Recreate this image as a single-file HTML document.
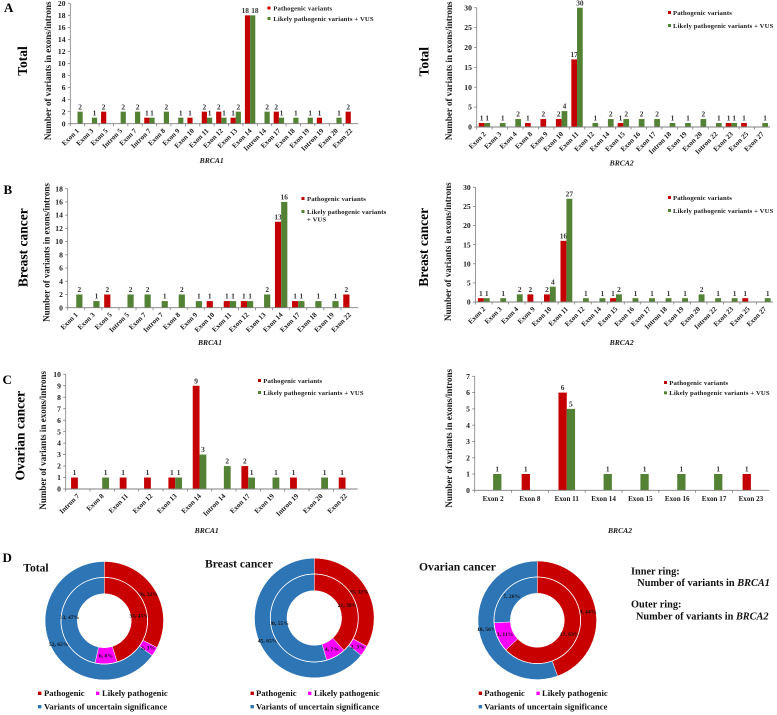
<!DOCTYPE html>
<html lang="en">
<head>
<meta charset="utf-8">
<title>BRCA1 and BRCA2 variant distribution</title>
<style>
html,body{margin:0;padding:0;background:#fff;}
svg{display:block;font-family:"Liberation Serif",serif;font-weight:bold;filter:blur(0.3px);}
.leg{font-size:6.7px;fill:#1a1a1a;letter-spacing:.12px;}
.atitle{font-size:9px;fill:#1a1a1a;text-anchor:middle;}
.ptitle{font-size:13.5px;fill:#000;text-anchor:middle;}
.gene{font-size:7.6px;font-style:italic;fill:#1a1a1a;text-anchor:middle;}
.letter{font-size:13px;fill:#000;}
.dtitle{font-size:11.6px;fill:#111;}
.dleg{font-size:8.6px;fill:#111;}
.note{font-size:10.3px;fill:#111;}
</style>
</head>
<body>
<svg id="fig" xmlns="http://www.w3.org/2000/svg" width="777" height="715" viewBox="0 0 777 715">
<rect width="777" height="715" fill="#fff"/>

<text class="letter" x="4" y="12">A</text>
<text class="letter" x="3.5" y="194">B</text>
<text class="letter" x="2.5" y="384">C</text>
<text class="letter" x="2.5" y="562">D</text>

<text class="ptitle" transform="translate(27 61) rotate(-90)">Total</text>
<text class="ptitle" transform="translate(428.5 61.7) rotate(-90)">Total</text>
<text class="ptitle" transform="translate(27.5 247.7) rotate(-90)">Breast cancer</text>
<text class="ptitle" transform="translate(428 247.3) rotate(-90)">Breast cancer</text>
<text class="ptitle" transform="translate(24.5 435.7) rotate(-90)">Ovarian cancer</text>

<text class="atitle" transform="translate(51 70.8) rotate(-90)">Number of variants in exons/introns</text>
<text class="atitle" transform="translate(452 70.8) rotate(-90)">Number of variants in exons/introns</text>
<text class="atitle" transform="translate(49.5 252.5) rotate(-90)">Number of variants in exons/introns</text>
<text class="atitle" transform="translate(451 251.7) rotate(-90)">Number of variants in exons/introns</text>
<text class="atitle" transform="translate(46 440.3) rotate(-90)">Number of variants in exons/introns</text>
<text class="atitle" transform="translate(451.8 438.3) rotate(-90)">Number of variants in exons/introns</text>

<text class="gene" x="211.7" y="163">BRCA1</text>
<text class="gene" x="621.7" y="165.5">BRCA2</text>
<text class="gene" x="210" y="345">BRCA1</text>
<text class="gene" x="621.7" y="345">BRCA2</text>
<text class="gene" x="206.7" y="533">BRCA1</text>
<text class="gene" x="620" y="533">BRCA2</text>

<g>
<rect x="267.5" y="6.5" width="3" height="3" fill="#c00000"/><text class="leg" x="273.3" y="10.3">Pathogenic variants</text>
<rect x="267.5" y="17" width="3" height="3" fill="#548235"/><text class="leg" x="273.3" y="20.8">Likely pathogenic variants + VUS</text>
</g>
<g>
<rect x="668" y="11" width="3" height="3" fill="#c00000"/><text class="leg" x="673" y="14.8">Pathogenic variants</text>
<rect x="668" y="24" width="3" height="3" fill="#548235"/><text class="leg" x="673" y="27.8">Likely pathogenic variants + VUS</text>
</g>
<g>
<rect x="301.5" y="197" width="3" height="3" fill="#c00000"/><text class="leg" x="307" y="200.8">Pathogenic variants</text>
<rect x="301.5" y="210" width="3" height="3" fill="#548235"/><text class="leg" x="307" y="214">Likely pathogenic variants</text><text class="leg" x="307" y="221.5">+ VUS</text>
</g>
<g>
<rect x="668" y="196" width="3" height="3" fill="#c00000"/><text class="leg" x="673" y="199.8">Pathogenic variants</text>
<rect x="668" y="209" width="3" height="3" fill="#548235"/><text class="leg" x="673" y="212.8">Likely pathogenic variants + VUS</text>
</g>
<g>
<rect x="258" y="379" width="3" height="3" fill="#c00000"/><text class="leg" x="263.3" y="383">Pathogenic variants</text>
<rect x="258" y="391" width="3" height="3" fill="#548235"/><text class="leg" x="263.3" y="394.8">Likely pathogenic variants + VUS</text>
</g>
<g>
<rect x="664" y="381" width="3" height="3" fill="#c00000"/><text class="leg" x="669.3" y="384.8">Pathogenic variants</text>
<rect x="664" y="391.3" width="3" height="3" fill="#548235"/><text class="leg" x="669.3" y="395.2">Likely pathogenic variants + VUS</text>
</g>

<g id="chart-a1"></g>
<g id="chart-a2"></g>
<g id="chart-b1"></g>
<g id="chart-b2"></g>
<g id="chart-c1"></g>
<g id="chart-c2"></g>
<g id="donut-total"></g>
<g id="donut-breast"></g>
<g id="donut-ovarian"></g>

<text class="dtitle" x="23.3" y="571.7">Total</text>
<text class="dtitle" x="205" y="567.7">Breast cancer</text>
<text class="dtitle" x="419" y="570.7">Ovarian cancer</text>

<g>
<rect x="38" y="691.6" width="3.4" height="3.4" fill="#c00000"/><text class="dleg" x="44" y="696.2">Pathogenic</text>
<rect x="96" y="691.6" width="3.4" height="3.4" fill="#ff00ff"/><text class="dleg" x="102" y="696.2">Likely pathogenic</text>
<rect x="38" y="705" width="3.4" height="3.4" fill="#2e75b6"/><text class="dleg" x="44" y="709.7">Variants of uncertain significance</text>
</g>
<g>
<rect x="250.5" y="691.6" width="3.4" height="3.4" fill="#c00000"/><text class="dleg" x="256" y="696.2">Pathogenic</text>
<rect x="308" y="691.6" width="3.4" height="3.4" fill="#ff00ff"/><text class="dleg" x="314" y="696.2">Likely pathogenic</text>
<rect x="250.5" y="705" width="3.4" height="3.4" fill="#2e75b6"/><text class="dleg" x="256" y="709.7">Variants of uncertain significance</text>
</g>
<g>
<rect x="478.7" y="691.6" width="3.4" height="3.4" fill="#c00000"/><text class="dleg" x="484.3" y="696.2">Pathogenic</text>
<rect x="536.4" y="691.6" width="3.4" height="3.4" fill="#ff00ff"/><text class="dleg" x="542" y="696.2">Likely pathogenic</text>
<rect x="478.7" y="705" width="3.4" height="3.4" fill="#2e75b6"/><text class="dleg" x="484.3" y="709.7">Variants of uncertain significance</text>
</g>

<g>
<text class="note" x="631" y="574.3">Inner ring:</text>
<text class="note" x="637.3" y="586">Number of variants in <tspan font-style="italic">BRCA1</tspan></text>
<text class="note" x="631" y="607.3">Outer ring:</text>
<text class="note" x="636" y="619.3">Number of variants in <tspan font-style="italic">BRCA2</tspan></text>
</g>
</svg>

<script>
// ----- Chart A1: Total, BRCA1 -----
const a1Categories = ["Exon 1","Exon 3","Exon 5","Intron 5","Exon 7","Intron 7","Exon 8","Exon 9","Exon 10","Exon 11","Exon 12","Exon 13","Exon 14","Intron 14","Exon 17","Exon 18","Exon 19","Intron 19","Exon 20","Exon 22"];
const a1Pathogenic = [0,0,2,0,0,1,0,0,1,2,2,1,18,0,2,0,0,1,0,2];
const a1LikelyVus  = [2,1,0,2,2,1,2,1,0,1,1,2,18,2,1,1,1,0,1,0];
const a1Ticks = [0,2,4,6,8,10,12,14,16,18,20];

// ----- Chart A2: Total, BRCA2 -----
const a2Categories = ["Exon 2","Exon 3","Exon 4","Exon 8","Exon 9","Exon 10","Exon 11","Exon 12","Exon 14","Exon 15","Exon 16","Exon 17","Intron 18","Exon 19","Exon 20","Intron 22","Exon 23","Exon 25","Exon 27"];
const a2Pathogenic = [1,0,0,1,2,2,17,0,0,1,0,0,0,0,0,0,1,1,0];
const a2LikelyVus  = [1,1,2,0,0,4,30,1,2,2,2,2,1,1,2,1,1,0,1];
const a2Ticks = [0,5,10,15,20,25,30];

// ----- Chart B1: Breast cancer, BRCA1 -----
const b1Categories = ["Exon 1","Exon 3","Exon 5","Intron 5","Exon 7","Intron 7","Exon 8","Exon 9","Exon 10","Exon 11","Exon 12","Exon 13","Exon 14","Exon 17","Exon 18","Exon 19","Exon 22"];
const b1Pathogenic = [0,0,2,0,0,0,0,0,1,1,1,0,13,1,0,0,2];
const b1LikelyVus  = [2,1,0,2,2,1,2,1,0,1,1,2,16,1,1,1,0];
const b1Ticks = [0,2,4,6,8,10,12,14,16,18];

// ----- Chart B2: Breast cancer, BRCA2 -----
const b2Categories = ["Exon 2","Exon 3","Exon 4","Exon 9","Exon 10","Exon 11","Exon 12","Exon 14","Exon 15","Exon 16","Exon 17","Intron 18","Exon 19","Exon 20","Intron 22","Exon 23","Exon 25","Exon 27"];
const b2Pathogenic = [1,0,0,2,2,16,0,0,1,0,0,0,0,0,0,0,1,0];
const b2LikelyVus  = [1,1,2,0,4,27,1,1,2,1,1,1,1,2,1,1,0,1];
const b2Ticks = [0,5,10,15,20,25,30];

// ----- Chart C1: Ovarian cancer, BRCA1 -----
const c1Categories = ["Intron 7","Exon 8","Exon 11","Exon 12","Exon 13","Exon 14","Intron 14","Exon 17","Exon 19","Intron 19","Exon 20","Exon 22"];
const c1Pathogenic = [1,0,1,1,1,9,0,2,0,1,0,1];
const c1LikelyVus  = [0,1,0,0,1,3,2,1,1,0,1,0];
const c1Ticks = [0,1,2,3,4,5,6,7,8,9,10];

// ----- Chart C2: Ovarian cancer, BRCA2 -----
const c2Categories = ["Exon 2","Exon 8","Exon 11","Exon 14","Exon 15","Exon 16","Exon 17","Exon 23"];
const c2Pathogenic = [0,1,6,0,0,0,0,1];
const c2LikelyVus  = [1,0,5,1,1,1,1,0];
const c2Ticks = [0,1,2,3,4,5,6,7];

// ----- Donuts: [pathogenic, likely pathogenic, uncertain significance] -----
const totalInnerCounts = [33,6,34];
const totalInnerLabels = ["33, 45%","6, 8%","33, 47%"];
const totalOuterCounts = [26,2,52];
const totalOuterLabels = ["26, 32%","2, 3%","52, 65%"];

const breastInnerCounts = [21,4,30];
const breastInnerLabels = ["21, 38%","4, 7%","30, 55%"];
const breastOuterCounts = [23,2,45];
const breastOuterLabels = ["23, 32%","2, 3%","45, 65%"];

const ovarianInnerCounts = [17,3,7];
const ovarianInnerLabels = ["17, 63%","3, 11%","7, 26%"];
const ovarianOuterCounts = [8,0,10];
const ovarianOuterLabels = ["8, 44%","","10, 56%"];

const SVGNS = "http://www.w3.org/2000/svg";
const RED = "#c40000", GREEN = "#548235", AXIS = "#7f7f7f", INK = "#1a1a1a";
const DONUT_COLORS = ["#c80000","#ff00ff","#2e75b6"];

function mk(parent, tag, attrs, txt) {
  const el = document.createElementNS(SVGNS, tag);
  for (const k in attrs) el.setAttribute(k, attrs[k]);
  if (txt !== undefined) el.textContent = txt;
  parent.appendChild(el);
  return el;
}

function drawBars(id, cats, redVals, greenVals, ticks, box) {
  const g = document.getElementById(id);
  const maxV = ticks[ticks.length - 1];
  const band = (box.x1 - box.x0) / cats.length;
  const xScale = i => box.x0 + band * (i + 0.5);
  const yScale = v => box.y0 + (box.yTop - box.y0) * v / maxV;

  ticks.forEach(t => {
    const tk = mk(g, "line", {x1: box.x0 - 2.5, x2: box.x0, y1: yScale(t), y2: yScale(t), stroke: AXIS, "stroke-width": .8});
    
    
    const lb = mk(g, "text", {x: box.x0 - 4.8, y: yScale(t) + 2.6, "text-anchor": "end", "font-size": 7.6, fill: INK}, t);
    
    
  });

  cats.forEach((c, i) => {
    const tk = mk(g, "line", {x1: box.x0 + band * i, x2: box.x0 + band * i, y1: box.y0, y2: box.y0 + 2.5, stroke: AXIS, "stroke-width": .8});
    
    
    const cx = xScale(i);
    const attrs = box.flat
      ? {x: cx, y: box.y0 + 10.5, "text-anchor": "middle", "font-size": 7.1, fill: INK}
      : {transform: "translate(" + (cx + 2) + " " + (box.y0 + 7.5) + ") rotate(-45)", "text-anchor": "end", "font-size": 7.1, fill: INK};
    const lb = mk(g, "text", attrs, c);
    
    

    // Equal-height two-digit labels would collide, so they are nudged apart.
    const crowded = redVals[i] >= 10 && redVals[i] === greenVals[i];
    [[redVals[i], RED, -1, 'bar-pathogenic', crowded ? -2.2 : 0], [greenVals[i], GREEN, 0, 'bar-likely-pathogenic-vus', crowded ? 2.2 : 0]].forEach(s => {
      const v = s[0];
      if (!v) return;
      const bx = cx + s[2] * box.bar;
      const bar = mk(g, "rect", {x: bx, y: yScale(v), width: box.bar, height: box.y0 - yScale(v), fill: s[1]});
      
      
      const val = mk(g, "text", {x: bx + box.bar / 2 + s[4], y: yScale(v) - 2.4, "text-anchor": "middle", "font-size": 7.4, fill: "#333"}, v);
      
      
    });
  });

  const yAx = mk(g, "line", {x1: box.x0, x2: box.x0, y1: box.yTop, y2: box.y0, stroke: AXIS, "stroke-width": .8});
  
  
  const xAx = mk(g, "line", {x1: box.x0, x2: box.x1, y1: box.y0, y2: box.y0, stroke: AXIS, "stroke-width": .9});
  
  
}

function arcPath(cx, cy, r0, r1, a0, a1) {
  const pt = (r, a) => (cx + r * Math.sin(a)).toFixed(2) + " " + (cy - r * Math.cos(a)).toFixed(2);
  const large = a1 - a0 > Math.PI ? 1 : 0;
  return "M" + pt(r1, a0) + "A" + r1 + " " + r1 + " 0 " + large + " 1 " + pt(r1, a1) +
         "L" + pt(r0, a1) + "A" + r0 + " " + r0 + " 0 " + large + " 0 " + pt(r0, a0) + "Z";
}

function drawRing(g, cx, cy, r0, r1, counts, labels, ringName) {
  const total = counts.reduce((a, b) => a + b, 0);
  let a = 0;
  const mids = [];
  counts.forEach((v, i) => {
    const span = v / total * Math.PI * 2;
    if (v > 0) {
      const seg = mk(g, "path", {d: arcPath(cx, cy, r0, r1, a, a + span), fill: DONUT_COLORS[i], stroke: "#fff", "stroke-width": .5});
      
      
    }
    mids.push(a + span / 2);
    a += span;
  });
  const rm = (r0 + r1) / 2;
  labels.forEach((t, i) => {
    if (!t) return;
    const lb = mk(g, "text", {x: cx + rm * Math.sin(mids[i]), y: cy - rm * Math.cos(mids[i]) + 1.9, "text-anchor": "middle", "font-size": 5.6, fill: "#111"}, t);
    
    
  });
}

function drawDonut(id, cx, cy, radii, innerCounts, innerLabels, outerCounts, outerLabels) {
  const g = document.getElementById(id);
  drawRing(g, cx, cy, radii[1], radii[2], outerCounts, outerLabels, 'outer-ring');
  drawRing(g, cx, cy, radii[0], radii[1], innerCounts, innerLabels, 'inner-ring');
  const sep = mk(g, "circle", {cx: cx, cy: cy, r: radii[1], fill: "none", stroke: "#fff", "stroke-width": .8});
  
  
}

drawBars("chart-a1", a1Categories, a1Pathogenic, a1LikelyVus, a1Ticks, {x0: 70.3, x1: 358, y0: 123.7, yTop: 3.3, bar: 5.2});
drawBars("chart-a2", a2Categories, a2Pathogenic, a2LikelyVus, a2Ticks, {x0: 476.7, x1: 770, y0: 127, yTop: 7.7, bar: 5.7});
drawBars("chart-b1", b1Categories, b1Pathogenic, b1LikelyVus, b1Ticks, {x0: 67.7, x1: 358, y0: 307.7, yTop: 188.7, bar: 6.2});
drawBars("chart-b2", b2Categories, b2Pathogenic, b2LikelyVus, b2Ticks, {x0: 475.5, x1: 773, y0: 302, yTop: 187.3, bar: 5.9});
drawBars("chart-c1", c1Categories, c1Pathogenic, c1LikelyVus, c1Ticks, {x0: 65.7, x1: 357.7, y0: 489, yTop: 374.3, bar: 6.8});
drawBars("chart-c2", c2Categories, c2Pathogenic, c2LikelyVus, c2Ticks, {x0: 474.7, x1: 769.3, y0: 490.3, yTop: 376.3, bar: 8.3, flat: true});

drawDonut("donut-total", 104.3, 620.7, [27, 43.3, 59.2], totalInnerCounts, totalInnerLabels, totalOuterCounts, totalOuterLabels);
drawDonut("donut-breast", 314.3, 618, [27.3, 44, 59.8], breastInnerCounts, breastInnerLabels, breastOuterCounts, breastOuterLabels);
drawDonut("donut-ovarian", 537.3, 620.3, [27, 43.3, 59.3], ovarianInnerCounts, ovarianInnerLabels, ovarianOuterCounts, ovarianOuterLabels);
</script>
</body>
</html>
